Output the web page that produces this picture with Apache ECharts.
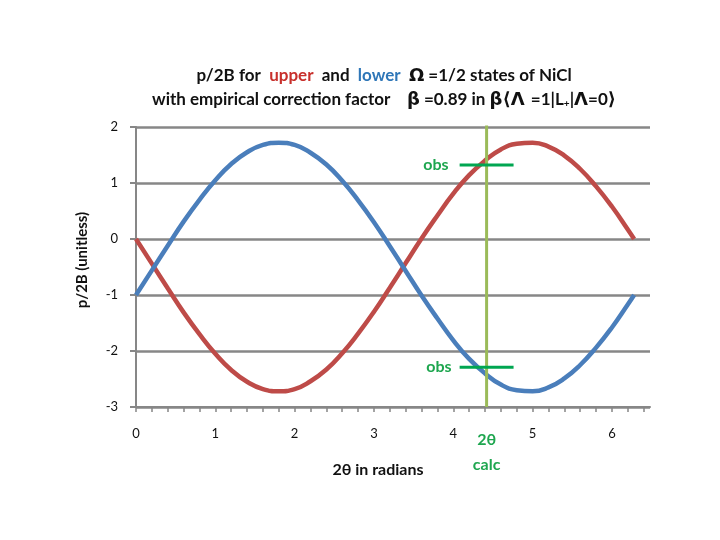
<!DOCTYPE html>
<html>
<head>
<meta charset="utf-8">
<script src="https://cdn.jsdelivr.net/npm/echarts@6/dist/echarts.min.js"></script>
<style>
  html, body { margin: 0; padding: 0; background: #fff; }
  #chart { width: 720px; height: 540px; }
</style>
</head>
<body>
<div id="chart"></div>
<script>
// 2θ (radians) sample points
var xVals = [0, 0.2, 0.4, 0.6, 0.8, 1.0, 1.2, 1.4, 1.6, 1.8, 2.0, 2.2, 2.4, 2.6, 2.8, 3.0,
  3.2, 3.4, 3.6, 3.8, 4.0, 4.2, 4.4, 4.6, 4.8, 5.0, 5.2, 5.4, 5.6, 5.8, 6.0, 6.2, 6.28];
// upper state (red)
var upperVals = [0.00, -0.44, -0.88, -1.31, -1.70, -2.05, -2.34, -2.55, -2.68, -2.72, -2.68, -2.54,
  -2.33, -2.04, -1.69, -1.30, -0.87, -0.43, 0.01, 0.42, 0.81, 1.14, 1.40, 1.60, 1.70, 1.72, 1.65,
  1.49, 1.25, 0.94, 0.58, 0.17, 0.00];
// lower state (blue)
var lowerVals = [-1.00, -0.56, -0.12, 0.31, 0.70, 1.05, 1.34, 1.55, 1.68, 1.72, 1.68, 1.54,
  1.33, 1.04, 0.69, 0.30, -0.13, -0.57, -1.01, -1.42, -1.81, -2.14, -2.40, -2.60, -2.70, -2.72, -2.65,
  -2.49, -2.25, -1.94, -1.58, -1.17, -1.00];

// calculated 2θ and observed values
var calcX = 4.42;
var calcY = [-3, 2.05];
var obsX = [4.08, 4.76];
var obsUpper = 1.32;
var obsLower = -2.29;

// axis ticks / labels
var xTicks = [0, 0.2, 0.4, 0.6, 0.8, 1, 1.2, 1.4, 1.6, 1.8, 2, 2.2, 2.4, 2.6, 2.8, 3, 3.2, 3.4,
  3.6, 3.8, 4, 4.2, 4.4, 4.6, 4.8, 5, 5.2, 5.4, 5.6, 5.8, 6, 6.2, 6.4];
var xLabels = [0, 1, 2, 3, 4, 5, 6];

var FONT = 'Lato, "Open Sans", sans-serif';
var GRAY = '#878787';
var OBS_GREEN = '#1ea64f';

function pairs(xs, ys) {
  var out = [];
  for (var i = 0; i < xs.length; i++) out.push([xs[i], ys[i]]);
  return out;
}

var chart = echarts.init(document.getElementById('chart'));

var option = {
  animation: false,
  grid: { left: 136, right: 70, top: 127, bottom: 133 },
  title: {
    left: 379, top: 59, textAlign: 'center',
    text: '{b|p/2B for  }{r|upper}{b|  and  }{u|lower}{b|  }{g|Ω}{b| =1/2 states of NiCl}\n' +
          '{b|with empirical correction factor    }{g|β}{b| =0.89 in }{g|β⟨Λ }{b|=1|L}{s|+}{b||}{g|Λ}{b|=0}{g|⟩}',
    textStyle: {
      lineHeight: 24,
      rich: {
        b: { fontFamily: FONT, fontSize: 17, fontWeight: 'bold', color: '#111' },
        r: { fontFamily: FONT, fontSize: 17, fontWeight: 'bold', color: '#c8302c' },
        u: { fontFamily: FONT, fontSize: 17, fontWeight: 'bold', color: '#2f77b8' },
        g: { fontFamily: '"DejaVu Sans", sans-serif', fontSize: 18, fontWeight: 'bold', color: '#111' },
        s: { fontFamily: FONT, fontSize: 10, fontWeight: 'bold', color: '#111', padding: [8, 0, 0, 0] }
      }
    }
  },
  xAxis: {
    type: 'value', min: 0, max: 6.48,
    name: '2θ in radians', nameLocation: 'middle', nameGap: 55,
    nameTextStyle: { fontFamily: FONT, fontSize: 16, fontWeight: 'bold', color: '#111', padding: [0, 30, 0, 0] },
    axisLine: { show: true, onZero: false, lineStyle: { color: GRAY, width: 2 } },
    axisTick: { show: true, customValues: xTicks, length: 5, lineStyle: { color: GRAY, width: 1.5 } },
    axisLabel: { customValues: xLabels, margin: 20, fontFamily: FONT, fontSize: 13, color: '#111' },
    splitLine: { show: false }
  },
  yAxis: {
    type: 'value', min: -3, max: 2, interval: 1,
    name: 'p/2B (unitless)', nameLocation: 'middle', nameGap: 46,
    nameTextStyle: { fontFamily: FONT, fontSize: 15, fontWeight: 'bold', color: '#111', padding: [0, 0, 0, 14] },
    axisLine: { show: true, lineStyle: { color: GRAY, width: 2 } },
    axisTick: { show: true, length: 6, lineStyle: { color: GRAY, width: 2 } },
    axisLabel: { margin: 18, fontFamily: FONT, fontSize: 13, color: '#111' },
    splitLine: { show: true, lineStyle: { color: GRAY, width: 2.5 } }
  },
  series: [
    {
      name: 'upper', type: 'line', smooth: true, showSymbol: false, z: 3,
      lineStyle: { color: '#be4b48', width: 4.5 },
      data: pairs(xVals, upperVals)
    },
    {
      name: 'lower', type: 'line', smooth: true, showSymbol: false, z: 3,
      lineStyle: { color: '#4a7ebb', width: 4.5 },
      data: pairs(xVals, lowerVals)
    },
    {
      name: 'calc', type: 'line', symbol: 'circle', symbolSize: 0, z: 4,
      lineStyle: { color: '#9bbb59', width: 3 },
      label: { show: false },
      data: [
        { value: [calcX, calcY[0]], label: {
          show: true, position: 'bottom', distance: 20, formatter: '2θ\ncalc',
          fontFamily: FONT, fontSize: 16, fontWeight: 'bold', color: OBS_GREEN, lineHeight: 25
        } },
        [calcX, calcY[1]]
      ]
    },
    {
      name: 'obsUpper', type: 'line', symbol: 'circle', symbolSize: 0, z: 5,
      lineStyle: { color: '#00a651', width: 3 },
      data: [
        { value: [obsX[0], obsUpper], label: {
          show: true, position: 'left', distance: 11, formatter: 'obs',
          fontFamily: FONT, fontSize: 16, fontWeight: 'bold', color: OBS_GREEN
        } },
        [obsX[1], obsUpper]
      ]
    },
    {
      name: 'obsLower', type: 'line', symbol: 'circle', symbolSize: 0, z: 5,
      lineStyle: { color: '#00a651', width: 3 },
      data: [
        { value: [obsX[0], obsLower], label: {
          show: true, position: 'left', distance: 8, formatter: 'obs',
          fontFamily: FONT, fontSize: 16, fontWeight: 'bold', color: OBS_GREEN
        } },
        [obsX[1], obsLower]
      ]
    }
  ]
};

chart.setOption(option);
</script>
</body>
</html>
